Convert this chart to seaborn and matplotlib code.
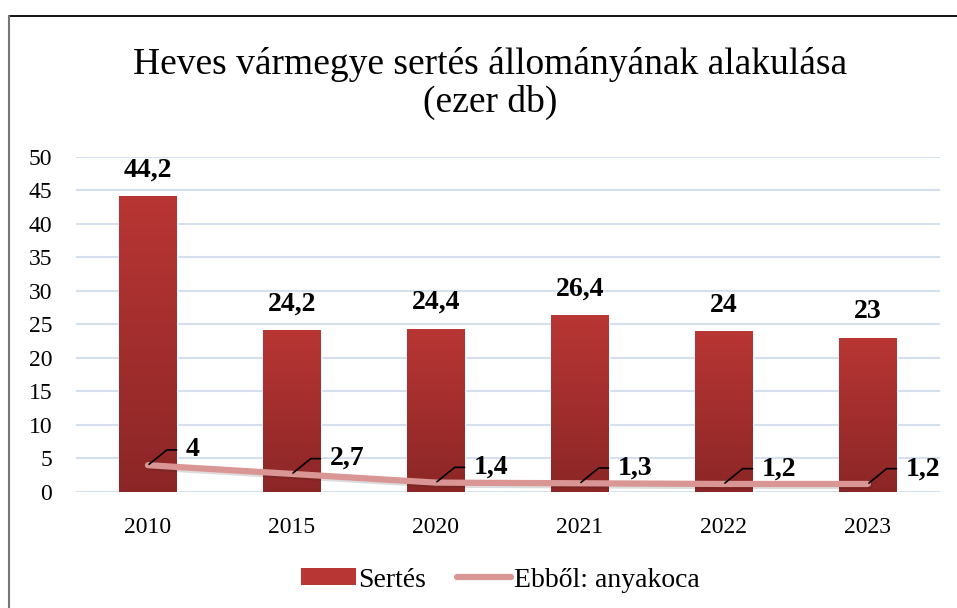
import matplotlib
matplotlib.use("Agg")
import matplotlib.pyplot as plt
import matplotlib.patheffects as pe
from matplotlib.lines import Line2D
from matplotlib.patches import Patch
import numpy as np
import pandas as pd
import seaborn as sns

years = ["2010", "2015", "2020", "2021", "2022", "2023"]
sertes = [44.2, 24.2, 24.4, 26.4, 24.0, 23.0]
anyakoca = [4.0, 2.7, 1.4, 1.3, 1.2, 1.2]

sns.set_theme(style="white")
plt.rcParams["font.family"] = ["Liberation Serif", "DejaVu Serif"]
plt.rcParams["text.color"] = "black"
plt.rcParams["xtick.color"] = "black"
plt.rcParams["ytick.color"] = "black"

bar_top = "#b83634"
bar_bottom = "#8c2626"
line_color = "#d99694"
grid_color = "#d5e0ef"


def fmt(v):
    return f"{v:g}".replace(".", ",")


df = pd.DataFrame({"ev": years, "sertes": sertes, "anyakoca": anyakoca})

fig = plt.figure(figsize=(9.57, 6.08), dpi=100)
ax = fig.add_axes([0.0794, 0.1908, 0.9026, 0.551])

sns.barplot(data=df, x="ev", y="sertes", color=bar_top, width=0.4,
            saturation=1, ax=ax, zorder=2)

# gradient fill clipped to each bar
grad = np.linspace(0, 1, 256).reshape(-1, 1)
cmap = matplotlib.colors.LinearSegmentedColormap.from_list("g", [bar_bottom, bar_top])
for p in ax.patches:
    x0, y0 = p.get_x(), p.get_y()
    w, h = p.get_width(), p.get_height()
    im = ax.imshow(grad, cmap=cmap, aspect="auto", origin="lower",
                   extent=[x0, x0 + w, y0, y0 + h], zorder=2.1)
    im.set_clip_path(p)
    ax.text(x0 + w / 2, h + 2.0, fmt(h), ha="center", va="bottom",
            fontsize=20, fontweight="bold", zorder=5)

sns.lineplot(data=df, x="ev", y="anyakoca", color=line_color, linewidth=4.5,
             ax=ax, zorder=3, sort=False,
             path_effects=[pe.SimpleLineShadow(offset=(1, -1.5), alpha=0.15),
                           pe.Normal()])

for i, v in enumerate(anyakoca):
    ax.annotate(fmt(v), xy=(i, v), xytext=(27, 11), textcoords="offset points",
                ha="left", va="center", fontsize=20, fontweight="bold",
                zorder=6,
                arrowprops=dict(arrowstyle="-", color="black", lw=1.2,
                                shrinkA=4, shrinkB=1,
                                relpos=(0, 0.5),
                                connectionstyle="angle,angleA=0,angleB=39,rad=0"))

ax.set_xlim(-0.5, len(years) - 0.5)
ax.set_ylim(0, 50)
ax.set_yticks(range(0, 51, 5))
ax.yaxis.grid(True, color=grid_color, linewidth=1.5, zorder=0)
ax.set_axisbelow(True)
for s in ax.spines.values():
    s.set_visible(False)
ax.set_xlabel("")
ax.set_ylabel("")
ax.tick_params(axis="y", labelsize=17, pad=17, length=0)
ax.tick_params(axis="x", labelsize=17, pad=18, length=0)

fig.text(0.512, 0.863, "Heves vármegye sertés állományának alakulása\n(ezer db)",
         ha="center", va="center", fontsize=27, linespacing=1.12)

handles = [Patch(facecolor=bar_top, edgecolor="none"),
           Line2D([0], [0], color=line_color, linewidth=4.5, solid_capstyle="round")]
fig.legend(handles, ["Sertés", "Ebből: anyakoca"], loc="center",
           bbox_to_anchor=(0.523, 0.046), ncol=2, frameon=False, fontsize=20,
           handlelength=1.95, handleheight=0.55, columnspacing=1.1, handletextpad=0.1)

# chart border (top and left visible)
fig.add_artist(Line2D([9 / 957, 1], [1 - 16 / 608, 1 - 16 / 608],
                      transform=fig.transFigure, color="black", lw=1.3))
fig.add_artist(Line2D([9 / 957, 9 / 957], [0, 1 - 16 / 608],
                      transform=fig.transFigure, color="#777777", lw=1.5))

fig.savefig("out.png", dpi=100)
